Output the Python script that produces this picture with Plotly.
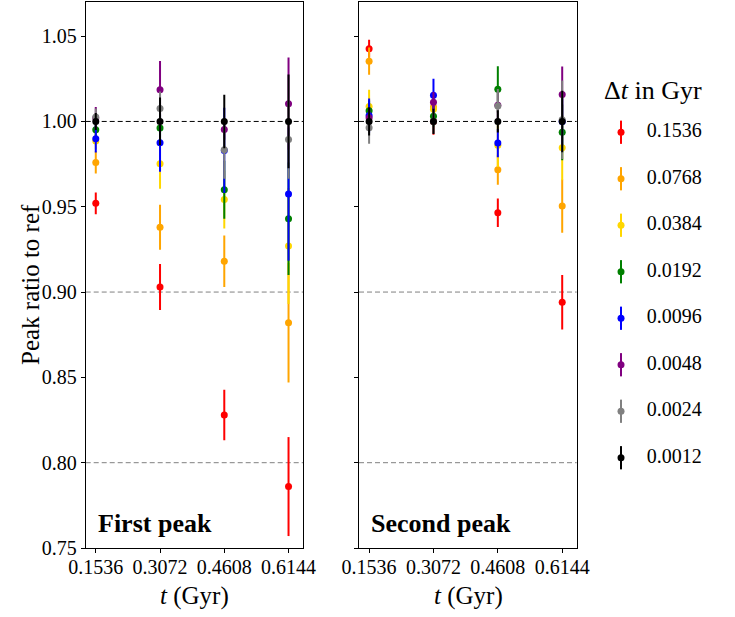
import plotly.graph_objects as go

# ---------------- data ----------------
t_vals = [0.1536, 0.3072, 0.4608, 0.6144]
t_labels = ["0.1536", "0.3072", "0.4608", "0.6144"]
dt_labels = ["0.1536", "0.0768", "0.0384", "0.0192", "0.0096", "0.0048", "0.0024", "0.0012"]
colors = ["red", "orange", "gold", "green", "blue", "purple", "grey", "black"]
y_ticks = [0.75, 0.80, 0.85, 0.90, 0.95, 1.00, 1.05]
ref_levels = [1.0, 0.9, 0.8]

# First peak: ratio to reference, and error, per time-step size
first_r1536 = [0.952, 0.903, 0.828, 0.786]
first_e1536 = [0.0064, 0.0135, 0.0148, 0.029]
first_r0768 = [0.976, 0.938, 0.918, 0.882]
first_e0768 = [0.0065, 0.0132, 0.0151, 0.035]
first_r0384 = [0.9885, 0.9752, 0.9543, 0.927]
first_e0384 = [0.005, 0.0147, 0.017, 0.034]
first_r0192 = [0.9951, 0.9961, 0.960, 0.943]
first_e0192 = [0.004, 0.008, 0.017, 0.033]
first_r0096 = [0.9898, 0.9875, 0.983, 0.9574]
first_e0096 = [0.008, 0.017, 0.025, 0.039]
first_r0048 = [1.002, 1.0186, 0.9953, 1.0104]
first_e0048 = [0.0065, 0.0168, 0.006, 0.027]
first_r0024 = [1.0026, 1.0076, 0.9834, 0.9894]
first_e0024 = [0.005, 0.010, 0.017, 0.023]
first_r0012 = [1.000, 1.000, 1.000, 1.000]
first_e0012 = [0.005, 0.014, 0.0157, 0.0275]

# Second peak
sec_r1536 = [1.0426, 1.000, 0.9465, 0.894]
sec_e1536 = [0.0053, 0.0078, 0.0083, 0.016]
sec_r0768 = [1.0353, 1.0085, 0.9717, 0.9504]
sec_e0768 = [0.008, 0.006, 0.0088, 0.0156]
sec_r0384 = [1.0088, 1.0072, 0.986, 0.9846]
sec_e0384 = [0.0098, 0.006, 0.0127, 0.019]
sec_r0192 = [1.0063, 1.0031, 1.0188, 0.9936]
sec_e0192 = [0.006, 0.006, 0.0135, 0.0164]
sec_r0096 = [1.0035, 1.0154, 0.9873, 1.000]
sec_e0096 = [0.010, 0.0096, 0.0083, 0.014]
sec_r0048 = [1.0022, 1.0113, 1.0095, 1.0158]
sec_e0048 = [0.006, 0.006, 0.008, 0.0164]
sec_r0024 = [0.9963, 1.000, 1.009, 1.001]
sec_e0024 = [0.0094, 0.007, 0.010, 0.023]
sec_r0012 = [1.000, 1.000, 1.000, 1.000]
sec_e0012 = [0.0083, 0.0074, 0.0065, 0.018]

first_series = [(first_r1536, first_e1536), (first_r0768, first_e0768), (first_r0384, first_e0384),
                (first_r0192, first_e0192), (first_r0096, first_e0096), (first_r0048, first_e0048),
                (first_r0024, first_e0024), (first_r0012, first_e0012)]
sec_series = [(sec_r1536, sec_e1536), (sec_r0768, sec_e0768), (sec_r0384, sec_e0384),
              (sec_r0192, sec_e0192), (sec_r0096, sec_e0096), (sec_r0048, sec_e0048),
              (sec_r0024, sec_e0024), (sec_r0012, sec_e0012)]

FONT = "Liberation Serif"
W, H = 735, 617

fig = go.Figure()

for axis_id, series in (("", first_series), ("2", sec_series)):
    for (vals, errs), c, lab in zip(series, colors, dt_labels):
        fig.add_trace(go.Scatter(
            x=t_vals, y=vals, mode="markers", name=lab, showlegend=False,
            xaxis="x" + axis_id, yaxis="y" + axis_id,
            marker=dict(color=c, size=7),
            error_y=dict(type="data", array=errs, width=0, thickness=2, color=c),
        ))

# custom legend drawn on its own hidden axes (marker + error bar glyph)
leg_idx = list(range(len(dt_labels)))
for i, (c, lab) in enumerate(zip(colors, dt_labels)):
    fig.add_trace(go.Scatter(
        x=[0], y=[i], mode="markers", showlegend=False, xaxis="x3", yaxis="y3",
        marker=dict(color=c, size=7), cliponaxis=False,
        error_y=dict(type="constant", value=0.25, width=0, thickness=2, color=c),
    ))
fig.add_trace(go.Scatter(
    x=[0.19] * len(dt_labels), y=leg_idx, mode="text", text=dt_labels,
    textposition="middle right", showlegend=False, xaxis="x3", yaxis="y3",
    textfont=dict(family=FONT, size=20, color="black"), cliponaxis=False,
))

# reference lines
shapes = []
for xr_, yr_ in (("x domain", "y"), ("x2 domain", "y2")):
    for lvl in ref_levels:
        shapes.append(dict(
            type="line", xref=xr_, yref=yr_, x0=0, x1=1, y0=lvl, y1=lvl, layer="below",
            line=dict(color="black" if lvl == 1.0 else "grey", width=1, dash="5px,3px"),
        ))

y_top = 1 - 2 / H
y_bot = 1 - 548 / H
xr = [0.1295, 0.649]

axis_common = dict(
    showline=True, linecolor="black", linewidth=1, mirror=True, showgrid=False,
    zeroline=False, ticks="outside", ticklen=4, tickwidth=1, tickcolor="black",
    tickfont=dict(family=FONT, size=20, color="black"), automargin=False,
)

fig.update_layout(
    template="none",
    width=W, height=H,
    margin=dict(l=0, r=0, t=0, b=0, pad=0, autoexpand=False),
    paper_bgcolor="white", plot_bgcolor="white",
    showlegend=False,
    font=dict(family=FONT, size=20, color="black"),
    xaxis=dict(domain=[85.7 / W, 303 / W], range=xr, tickvals=t_vals, ticktext=t_labels,
               anchor="y", ticklabelstandoff=-3, **axis_common),
    xaxis2=dict(domain=[359 / W, 576.7 / W], range=xr, tickvals=t_vals, ticktext=t_labels,
                anchor="y2", ticklabelstandoff=-3, **axis_common),
    yaxis=dict(domain=[y_bot, y_top], range=[0.75, 1.07], tickvals=y_ticks,
               tickformat=".2f", anchor="x", **axis_common),
    yaxis2=dict(domain=[y_bot, y_top], range=[0.75, 1.07], tickvals=y_ticks,
                showticklabels=False, anchor="x2", matches="y", **axis_common),
    xaxis3=dict(domain=[600 / W, 1.0], range=[-0.1556, 0.8444], visible=False,
                anchor="y3", automargin=False),
    yaxis3=dict(domain=[1 - 481 / H, 1 - 109 / H], range=[7.5, -0.5], visible=False,
                anchor="x3", automargin=False),
    shapes=shapes,
    annotations=[
        dict(text="Peak ratio to ref", xref="paper", yref="paper", x=30 / W, y=1 - 285 / H,
             textangle=-90, showarrow=False, font=dict(family=FONT, size=25),
             xanchor="center", yanchor="middle"),
        dict(text="<i>t</i> (Gyr)", xref="paper", yref="paper", x=194.5 / W, y=1 - 596 / H,
             showarrow=False, font=dict(family=FONT, size=25), xanchor="center", yanchor="middle"),
        dict(text="<i>t</i> (Gyr)", xref="paper", yref="paper", x=468 / W, y=1 - 596 / H,
             showarrow=False, font=dict(family=FONT, size=25), xanchor="center", yanchor="middle"),
        dict(text="<b>First peak</b>", xref="x domain", yref="y domain", x=0.048, y=0.044,
             showarrow=False, font=dict(family=FONT, size=26), xanchor="left", yanchor="middle"),
        dict(text="<b>Second peak</b>", xref="x2 domain", yref="y2 domain", x=0.048, y=0.044,
             showarrow=False, font=dict(family=FONT, size=26), xanchor="left", yanchor="middle"),
        dict(text="Δ<i>t</i> in Gyr", xref="paper", yref="paper", x=653 / W, y=1 - 90.7 / H,
             showarrow=False, font=dict(family=FONT, size=26), xanchor="center", yanchor="middle"),
    ],
)

fig.write_html("out.html", config={"displayModeBar": False},
               post_script="document.body.style.margin='0px';")
